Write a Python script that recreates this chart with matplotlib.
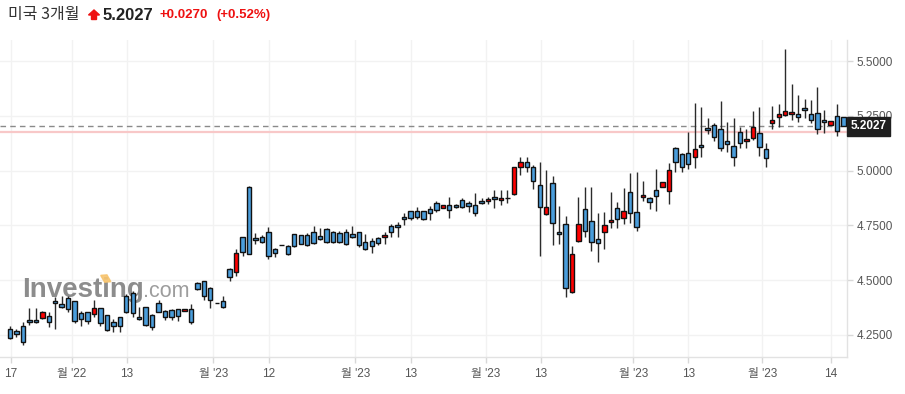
import matplotlib
matplotlib.use("Agg")
import matplotlib.pyplot as plt
from matplotlib.patches import Polygon, Rectangle
import matplotlib.transforms as mtransforms

plt.rcParams['font.family'] = ['Liberation Sans', 'Noto Sans CJK KR']

# OHLC values (candles left to right)
highs = [4.292, 4.277, 4.310, 4.371, 4.371, 4.359, 4.353, 4.424, 4.427, 4.427,
         4.403, 4.359, 4.356, 4.409, 4.374, 4.342, 4.321, 4.333, 4.437, 4.450,
         4.379, 4.376, 4.344, 4.409, 4.363, 4.367, 4.368, 4.368, 4.389, 4.493,
         4.496, 4.470, 4.394, 4.429, 4.557, 4.641, 4.698, 4.930, 4.717, 4.706,
         4.744, 4.645, 4.660, 4.660, 4.711, 4.706, 4.717, 4.749, 4.740, 4.740,
         4.724, 4.724, 4.735, 4.749, 4.719, 4.709, 4.694, 4.698, 4.721, 4.756,
         4.767, 4.807, 4.817, 4.833, 4.816, 4.840, 4.863, 4.843, 4.879, 4.848,
         4.874, 4.863, 4.900, 4.874, 4.879, 4.912, 4.912, 4.912, 5.018, 5.061,
         5.061, 5.026, 5.041, 5.003, 4.976, 4.839, 4.794, 4.657, 4.879, 4.927,
         4.927, 4.805, 4.810, 4.904, 4.856, 4.920, 4.988, 4.996, 4.954, 4.879,
         5.006, 4.948, 5.034, 5.110, 5.080, 5.176, 5.308, 5.290, 5.240, 5.219,
         5.320, 5.221, 5.240, 5.201, 5.189, 5.273, 5.290, 5.125, 5.296, 5.305,
         5.555, 5.396, 5.346, 5.326, 5.323, 5.381, 5.276, 5.227, 5.303, 5.245]

lows = [4.229, 4.241, 4.203, 4.295, 4.305, 4.322, 4.287, 4.275, 4.371, 4.356,
        4.305, 4.290, 4.301, 4.333, 4.292, 4.269, 4.262, 4.262, 4.348, 4.330,
        4.318, 4.292, 4.272, 4.353, 4.318, 4.318, 4.313, 4.358, 4.298, 4.455,
        4.409, 4.374, 4.394, 4.374, 4.496, 4.519, 4.612, 4.619, 4.665, 4.668,
        4.598, 4.604, 4.660, 4.615, 4.653, 4.665, 4.656, 4.664, 4.683, 4.671,
        4.669, 4.668, 4.662, 4.691, 4.653, 4.638, 4.623, 4.660, 4.664, 4.698,
        4.698, 4.752, 4.776, 4.779, 4.775, 4.775, 4.813, 4.829, 4.783, 4.830,
        4.828, 4.810, 4.794, 4.848, 4.846, 4.831, 4.843, 4.851, 4.889, 4.980,
        4.992, 4.915, 4.612, 4.798, 4.660, 4.664, 4.421, 4.442, 4.674, 4.696,
        4.634, 4.581, 4.641, 4.740, 4.737, 4.755, 4.760, 4.726, 4.863, 4.824,
        4.817, 4.926, 4.846, 4.996, 4.993, 5.006, 5.011, 5.064, 5.166, 5.136,
        5.090, 5.084, 5.023, 5.102, 5.102, 5.140, 5.069, 5.018, 5.189, 5.201,
        5.250, 5.232, 5.224, 5.240, 5.219, 5.168, 5.171, 5.208, 5.157, 5.202]

opens = [4.275, 4.269, 4.290, 4.316, 4.316, 4.326, 4.336, 4.403, 4.389, 4.417,
         4.403, 4.348, 4.353, 4.344, 4.371, 4.342, 4.307, 4.330, 4.427, 4.443,
         4.331, 4.376, 4.340, 4.394, 4.360, 4.363, 4.367, 4.359, 4.367, 4.485,
         4.496, 4.463, 4.394, 4.405, 4.549, 4.536, 4.696, 4.924, 4.691, 4.696,
         4.719, 4.641, 4.660, 4.657, 4.709, 4.706, 4.705, 4.719, 4.700, 4.735,
         4.719, 4.714, 4.719, 4.709, 4.719, 4.673, 4.677, 4.691, 4.696, 4.746,
         4.750, 4.787, 4.814, 4.816, 4.816, 4.824, 4.851, 4.830, 4.843, 4.842,
         4.865, 4.851, 4.843, 4.860, 4.860, 4.879, 4.865, 4.874, 4.892, 5.016,
         5.038, 5.016, 4.933, 4.801, 4.943, 4.718, 4.755, 4.444, 4.677, 4.824,
         4.770, 4.688, 4.719, 4.764, 4.828, 4.783, 4.901, 4.810, 4.878, 4.874,
         4.910, 4.927, 4.909, 5.104, 5.076, 5.080, 5.061, 5.116, 5.194, 5.208,
         5.189, 5.134, 5.112, 5.178, 5.134, 5.151, 5.171, 5.098, 5.217, 5.247,
         5.253, 5.259, 5.258, 5.287, 5.258, 5.262, 5.232, 5.209, 5.251, 5.244]

closes = [4.234, 4.252, 4.216, 4.307, 4.307, 4.356, 4.307, 4.394, 4.379, 4.367,
          4.314, 4.321, 4.312, 4.371, 4.303, 4.272, 4.292, 4.290, 4.356, 4.348,
          4.321, 4.294, 4.284, 4.356, 4.330, 4.333, 4.336, 4.367, 4.310, 4.458,
          4.427, 4.409, 4.394, 4.376, 4.516, 4.623, 4.627, 4.619, 4.682, 4.676,
          4.610, 4.623, 4.660, 4.618, 4.656, 4.665, 4.660, 4.671, 4.689, 4.676,
          4.673, 4.676, 4.664, 4.696, 4.659, 4.641, 4.657, 4.668, 4.705, 4.719,
          4.741, 4.778, 4.783, 4.787, 4.778, 4.805, 4.819, 4.842, 4.819, 4.834,
          4.833, 4.837, 4.805, 4.851, 4.869, 4.869, 4.874, 4.874, 5.016, 5.038,
          5.016, 4.954, 4.832, 4.836, 4.760, 4.709, 4.463, 4.618, 4.755, 4.724,
          4.673, 4.668, 4.750, 4.775, 4.778, 4.816, 4.805, 4.741, 4.889, 4.856,
          4.886, 4.947, 5.001, 5.038, 5.016, 5.029, 5.098, 5.107, 5.185, 5.155,
          5.102, 5.121, 5.064, 5.125, 5.144, 5.198, 5.107, 5.057, 5.232, 5.258,
          5.273, 5.268, 5.247, 5.276, 5.232, 5.189, 5.221, 5.226, 5.181, 5.2027]

last_price = 5.2027
prev_close = 5.1757

tick_labels = ['17', "월 '22", '13', "월 '23", '12', "월 '23", '13',
               "월 '23", '13', "월 '23", '13', "월 '23", '14']
tick_pos = [0.15, 9.55, 18.06, 31.47, 40.05, 53.45, 62.03,
            73.64, 82.15, 96.48, 105.0, 116.45, 127.04]
y_ticks = [4.25, 4.50, 4.75, 5.00, 5.25, 5.50]

UP = '#ff0000'
DOWN = '#4a9ddb'

fig = plt.figure(figsize=(9.05, 3.94), dpi=100)
ax = fig.add_axes([0.0, 37 / 394, 847 / 905, 317 / 394])

x = list(range(len(opens)))
colors = [UP if c > o else DOWN for o, c in zip(opens, closes)]
bottoms = [min(o, c) for o, c in zip(opens, closes)]
heights = [abs(c - o) for o, c in zip(opens, closes)]

ax.vlines(x, lows, highs, color='#2b2b2b', linewidth=1.0, zorder=3)
ax.bar(x, heights, bottom=bottoms, width=0.68, color=colors,
       edgecolor='#111111', linewidth=1.0, zorder=4)

# last price / previous close lines
ax.axhline(prev_close, color='#f8c8c8', linewidth=1.6, zorder=2)
ax.axhline(last_price, color='#8a8a8a', linewidth=1.0, linestyle=(0, (4, 3)), zorder=2)

ax.set_xlim(-1.55, 129.57)
ax.set_ylim(4.1486, 5.597)

ax.set_xticks(tick_pos)
ax.set_xticklabels(tick_labels)
ax.set_yticks(y_ticks)
ax.set_yticklabels([f'{v:.4f}' for v in y_ticks])
ax.yaxis.tick_right()
ax.tick_params(axis='both', colors='#d8d8d8', labelcolor='#555555',
               labelsize=8.5, length=4, width=1)
ax.tick_params(axis='x', pad=4)
ax.tick_params(axis='y', pad=3)
ax.grid(True, color='#f2f2f2', linewidth=1, zorder=0)
ax.set_axisbelow(True)

for side in ['left', 'top']:
    ax.spines[side].set_visible(False)
for side in ['right', 'bottom']:
    ax.spines[side].set_color('#e2e2e2')
    ax.spines[side].set_linewidth(1)

# current price tag
trans = mtransforms.blended_transform_factory(ax.transAxes, ax.transData)
ax.text(1.004, last_price, '5.2027', transform=trans, ha='left', va='center',
        fontsize=8.5, fontweight='bold', color='white', zorder=6,
        bbox=dict(boxstyle='square,pad=0.3', fc='#1f1f1f', ec='#1f1f1f'),
        clip_on=False)

# watermark
ax.text(0.026, 0.19, 'Investing', transform=ax.transAxes, fontsize=20,
        fontweight='bold', color='#787878', alpha=0.85, va='baseline',
        ha='left', zorder=1)
ax.text(0.169, 0.19, '.com', transform=ax.transAxes, fontsize=15.5,
        color='#8c8c8c', alpha=0.85, va='baseline', ha='left', zorder=1)
ax.add_patch(Rectangle((0.1235, 0.236), 0.0075, 0.022, transform=ax.transAxes,
                       color='#f7c46e', alpha=0.9, zorder=1, angle=12))

# header
fig.text(8 / 905, 1 - 15 / 394, '미국 3개월', fontsize=11.5, color='#333333',
         va='center', ha='left', family=['Noto Sans CJK KR', 'DejaVu Sans'])
arrow = [(94, 10), (99.5, 15), (96.5, 15), (96.5, 19.5), (91.5, 19.5),
         (91.5, 15), (88.5, 15)]
fig.add_artist(Polygon([(px / 905, 1 - py / 394) for px, py in arrow],
                       closed=True, color='#ee1111', transform=fig.transFigure))
fig.text(103 / 905, 1 - 15 / 394, '5.2027', fontsize=12, fontweight='bold',
         color='#222222', va='center', ha='left')
fig.text(159 / 905, 1 - 15 / 394, '+0.0270', fontsize=9.5, fontweight='bold',
         color='#ee1111', va='center', ha='left')
fig.text(216 / 905, 1 - 15 / 394, '(+0.52%)', fontsize=9.5, fontweight='bold',
         color='#ee1111', va='center', ha='left')

fig.savefig('out.png', dpi=100, facecolor='white')
